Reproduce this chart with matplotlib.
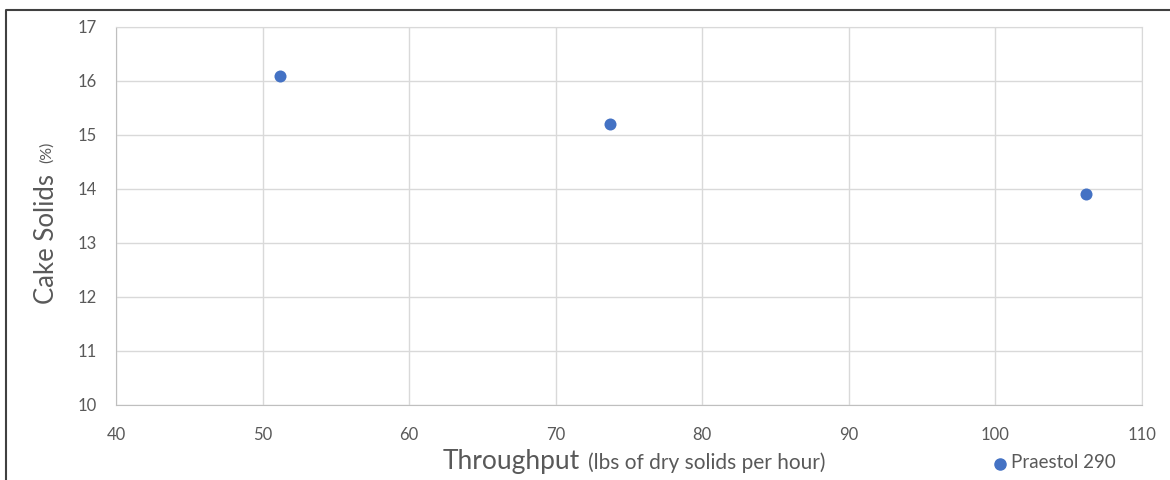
import matplotlib.pyplot as plt
from matplotlib.lines import Line2D

# data
throughput = [51.2, 73.7, 106.2]
cake_solids = [16.1, 15.2, 13.9]
series_name = "Praestol 290"
x_ticks = [40, 50, 60, 70, 80, 90, 100, 110]
y_ticks = [10, 11, 12, 13, 14, 15, 16, 17]

W, H = 1170, 480
fig = plt.figure(figsize=(W / 100, H / 100), dpi=100)
plt.rcParams['font.family'] = ['Lato', 'DejaVu Sans']

ax = fig.add_axes([116 / W, 1 - 405 / H, (1142 - 116) / W, (405 - 27) / H])
ax.scatter(throughput, cake_solids, s=75, color='#4472C4', zorder=3, linewidths=0)

ax.set_xlim(40, 110)
ax.set_ylim(10, 17)
ax.set_xticks(x_ticks)
ax.set_yticks(y_ticks)
ax.grid(True, color='#D9D9D9', linewidth=1)
ax.set_axisbelow(True)
for side in ['top', 'right']:
    ax.spines[side].set_color('#D9D9D9')
for side in ['left', 'bottom']:
    ax.spines[side].set_color('#BFBFBF')
ax.tick_params(length=0, colors='#595959', labelsize=12)
ax.tick_params(axis='x', pad=16)
ax.tick_params(axis='y', pad=14)

# axis titles with a smaller unit part
fig.text(443 / W, 1 - 469 / H, "Throughput", fontsize=19, color='#595959', va='baseline', ha='left')
fig.text(826 / W, 1 - 469 / H, "(lbs of dry solids per hour)", fontsize=15, color='#595959',
         va='baseline', ha='right')
fig.text(46 / W, 1 - 239 / H, "Cake Solids", fontsize=18.5, color='#595959', va='center', ha='center',
         rotation=90)
fig.text(47 / W, 1 - 152 / H, "(%)", fontsize=11.5, color='#595959', va='center', ha='center', rotation=90)

# legend
fig.lines.append(Line2D([1000 / W], [1 - 464 / H], marker='o', markersize=8, color='#4472C4',
                        linestyle='none', transform=fig.transFigure))
fig.text(1011 / W, 1 - 463 / H, series_name, fontsize=13.5, color='#595959', va='center', ha='left')

# outer frame (top and left edges visible in the reference)
fig.lines.append(Line2D([6 / W, 6 / W, 1.0], [0.0, 1 - 10 / H, 1 - 10 / H], color='#404040',
                        linewidth=1.5, transform=fig.transFigure))

fig.savefig("out.png", dpi=100)
